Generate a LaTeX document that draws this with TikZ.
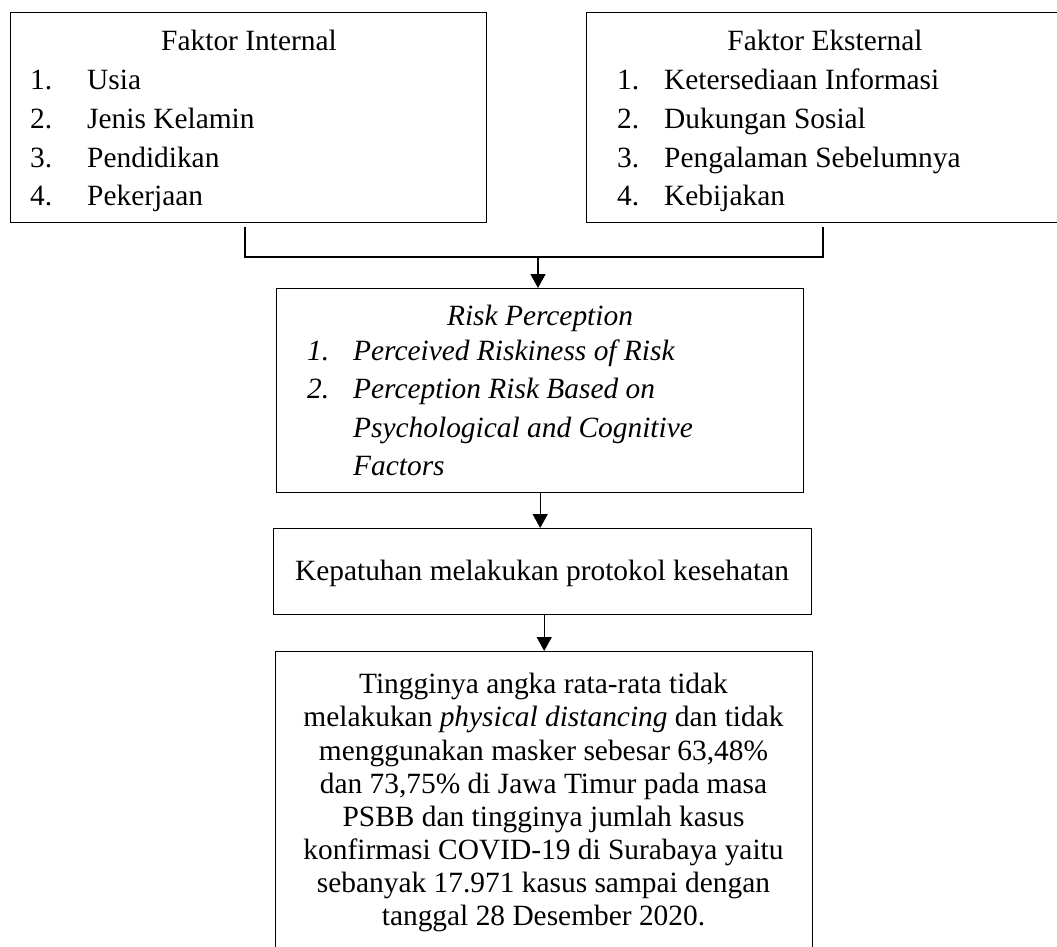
\documentclass[tikz,border=0pt]{standalone}
\usepackage{fontspec}
\setmainfont{Liberation Serif}
\usetikzlibrary{arrows.meta}
\begin{document}
\begin{tikzpicture}[x=1pt,y=-1pt,
  box/.style={draw=black,line width=1.4pt,inner sep=0pt,anchor=north west},
  lbl/.style={inner sep=0pt,font=\fontsize{29.4}{34}\selectfont},
  arr/.style={line width=1.4pt,-{Triangle[length=14pt,width=15pt]}},
  link/.style={line width=1.4pt}]
\clip (0,0) rectangle (1057,946);
\fill[white] (0,0) rectangle (1057,946);
% boxes
\node[box,minimum width=476.5pt,minimum height=210pt] (b1) at (9.5,12) {};
\node[box,minimum width=478pt,minimum height=210pt] (b2) at (586,12) {};
\node[box,minimum width=527pt,minimum height=204pt] (risk) at (276,288) {};
\node[box,minimum width=538pt,minimum height=86pt] (kep) at (273,528) {};
\node[box,minimum width=537pt,minimum height=319pt] (bot) at (275,651) {};
% box 1 text
\node[lbl,anchor=base] (t1) at (249,50) {Faktor Internal};
\node[lbl,anchor=base west] (n11) at (30,89) {1.};
\node[lbl,anchor=base west] (i11) at (87,89) {Usia};
\node[lbl,anchor=base west] (n12) at (30,128) {2.};
\node[lbl,anchor=base west] (i12) at (87,128) {Jenis Kelamin};
\node[lbl,anchor=base west] (n13) at (30,167) {3.};
\node[lbl,anchor=base west] (i13) at (87,167) {Pendidikan};
\node[lbl,anchor=base west] (n14) at (30,205) {4.};
\node[lbl,anchor=base west] (i14) at (87,205) {Pekerjaan};
% box 2 text
\node[lbl,anchor=base] (t2) at (825,50) {Faktor Eksternal};
\node[lbl,anchor=base west] (n21) at (617,89) {1.};
\node[lbl,anchor=base west] (i21) at (664,89) {Ketersediaan Informasi};
\node[lbl,anchor=base west] (n22) at (617,128) {2.};
\node[lbl,anchor=base west] (i22) at (664,128) {Dukungan Sosial};
\node[lbl,anchor=base west] (n23) at (617,167) {3.};
\node[lbl,anchor=base west] (i23) at (664,167) {Pengalaman Sebelumnya};
\node[lbl,anchor=base west] (n24) at (617,205) {4.};
\node[lbl,anchor=base west] (i24) at (664,205) {Kebijakan};
% risk text
\node[lbl,anchor=base] (t3) at (540,325) {\itshape Risk Perception};
\node[lbl,anchor=base west] (n31) at (307,360) {\itshape 1.};
\node[lbl,anchor=base west] (i31) at (353,360) {\itshape Perceived Riskiness of Risk};
\node[lbl,anchor=base west] (n32) at (307,398) {\itshape 2.};
\node[lbl,anchor=base west] (i32) at (353,398) {\itshape Perception Risk Based on};
\node[lbl,anchor=base west] (i33) at (353,437) {\itshape Psychological and Cognitive};
\node[lbl,anchor=base west] (i34) at (353,475) {\itshape Factors};
% kepatuhan text
\node[lbl,anchor=base] (t4) at (542,580) {Kepatuhan melakukan protokol kesehatan};
% bottom text
\node[lbl,anchor=base] (L1) at (543.5,693) {Tingginya angka rata-rata tidak};
\node[lbl,anchor=base] (L2) at (543.5,726) {melakukan \textit{physical distancing} dan tidak};
\node[lbl,anchor=base] (L3) at (543.5,760) {menggunakan masker sebesar 63,48\%};
\node[lbl,anchor=base] (L4) at (543.5,793) {dan 73,75\% di Jawa Timur pada masa};
\node[lbl,anchor=base] (L5) at (543.5,826) {PSBB dan tingginya jumlah kasus};
\node[lbl,anchor=base] (L6) at (543.5,859) {konfirmasi COVID-19 di Surabaya yaitu};
\node[lbl,anchor=base] (L7) at (543.5,892) {sebanyak 17.971 kasus sampai dengan};
\node[lbl,anchor=base] (L8) at (543.5,925) {tanggal 28 Desember 2020.};
% connectors
\coordinate (bl) at (245,227);
\coordinate (br) at (823,227);
\coordinate (j) at (538,257);
\draw[link] (bl) -- (bl |- j) -- (br |- j) -- (br);
\draw[arr] (j) -- (j |- risk.north);
\draw[arr] (risk.south) -- (risk.south |- kep.north);
\draw[arr] (bot.north |- kep.south) -- (bot.north);
\end{tikzpicture}
\end{document}
